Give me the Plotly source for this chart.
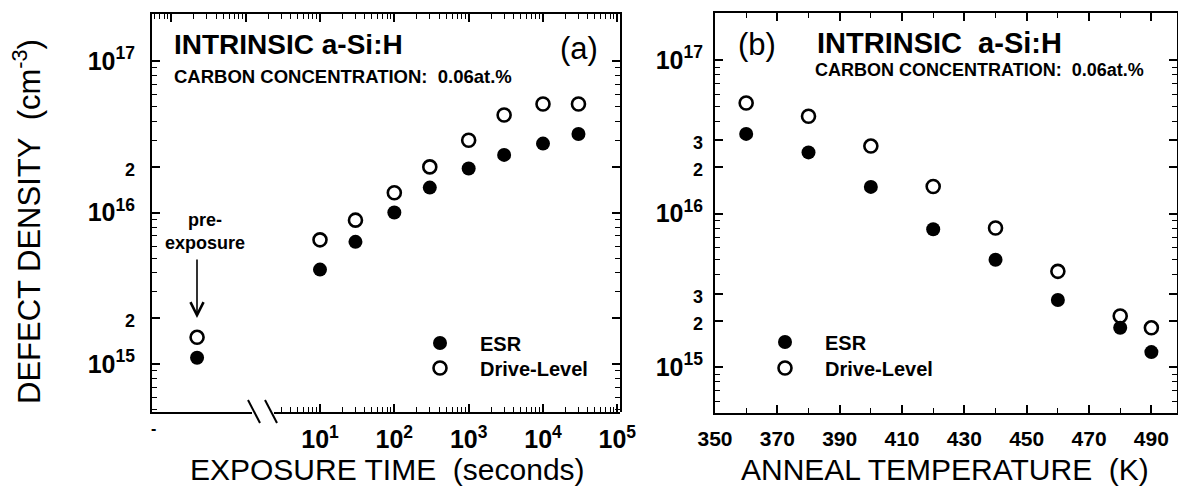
import math
import plotly.graph_objects as go

W, H = 1178, 488
FONT = "Liberation Sans"

# ---- (a) defect density vs light exposure time ----
exposure_time_s = [10, 30, 100, 300, 1000, 3000, 10000, 30000]
esr_exposure = [4.2e15, 6.4e15, 1.0e16, 1.46e16, 1.95e16, 2.4e16, 2.85e16, 3.3e16]
drive_exposure = [6.6e15, 8.9e15, 1.35e16, 2.0e16, 3.0e16, 4.4e16, 5.2e16, 5.2e16]
pre_exposure_x = [0]
pre_esr = [1.1e15]
pre_drive = [1.5e15]

# ---- (b) defect density vs anneal temperature ----
anneal_temp_k = [360, 380, 400, 420, 440, 460, 480, 490]
esr_anneal = [3.3e16, 2.5e16, 1.49e16, 7.9e15, 5.0e15, 2.73e15, 1.8e15, 1.25e15]
drive_anneal = [5.25e16, 4.3e16, 2.75e16, 1.5e16, 8.05e15, 4.2e15, 2.15e15, 1.8e15]

time_tickvals = [10, 100, 1000, 10000, 100000]
time_ticktext = ["10<sup>1</sup>", "10<sup>2</sup>", "10<sup>3</sup>", "10<sup>4</sup>", "10<sup>5</sup>"]
top_tickvals = [0.1, 1, 10, 100, 1000, 10000, 100000]

dens_a_tickvals = [1e15, 2e15, 1e16, 2e16, 1e17]
dens_b_tickvals = [1e15, 2e15, 3e15, 1e16, 2e16, 3e16, 1e17]


def px(x):
    return x / W


def py(y):
    return 1 - y / H


def small(s):
    return '<span style="font-size:18px">%s</span>' % s


def dens_labels(vals):
    out = []
    for v in vals:
        e = int(math.floor(math.log10(v) + 1e-9))
        m = round(v / 10 ** e)
        out.append("10<sup>%d</sup>" % e if m == 1 else small(str(m)))
    return out


def log_minor(lo, hi, mults):
    vals = []
    for e in range(lo, hi + 1):
        for m in mults:
            vals.append(m * 10 ** e)
    return vals


filled = dict(symbol="circle", size=14, color="black", line=dict(width=0))
hollow = dict(symbol="circle-open", size=13, color="black", line=dict(width=2.6, color="black"))

fig = go.Figure()
# pre-exposure points on their own short axis
fig.add_trace(go.Scatter(x=pre_exposure_x, y=pre_esr, mode="markers", marker=filled,
                         xaxis="x", yaxis="y", showlegend=False, hoverinfo="skip"))
fig.add_trace(go.Scatter(x=pre_exposure_x, y=pre_drive, mode="markers", marker=hollow,
                         xaxis="x", yaxis="y", showlegend=False, hoverinfo="skip"))
# invisible carrier so the full-width top time axis is laid out
fig.add_trace(go.Scatter(x=exposure_time_s, y=esr_exposure, mode="markers",
                         marker=dict(opacity=0), xaxis="x3", yaxis="y",
                         showlegend=False, hoverinfo="skip"))
fig.add_trace(go.Scatter(x=exposure_time_s, y=esr_exposure, mode="markers", marker=filled,
                         xaxis="x2", yaxis="y", name="ESR", legend="legend"))
fig.add_trace(go.Scatter(x=exposure_time_s, y=drive_exposure, mode="markers", marker=hollow,
                         xaxis="x2", yaxis="y", name="Drive-Level", legend="legend2"))
fig.add_trace(go.Scatter(x=anneal_temp_k, y=esr_anneal, mode="markers", marker=filled,
                         xaxis="x4", yaxis="y2", name="ESR", legend="legend3"))
fig.add_trace(go.Scatter(x=anneal_temp_k, y=drive_anneal, mode="markers", marker=hollow,
                         xaxis="x4", yaxis="y2", name="Drive-Level", legend="legend4"))

tickfont = dict(family=FONT, size=25, color="black", weight="bold")
common = dict(showgrid=False, zeroline=False, showline=True, linecolor="black", linewidth=2,
              tickcolor="black", tickwidth=1.5, automargin=False)
minor_style = dict(ticks="inside", ticklen=5, tickcolor="black", tickwidth=1.2)

# decade geometry of the exposure-time axis
dec_px = (543 - 320) / 3.0
t_right = 4 + (620 - 543) / dec_px
t_left_bottom = 1 - (320 - 274) / dec_px
t_left_top = 1 - (320 - 152) / dec_px


def legend_at(x_marker, y_marker):
    return dict(x=px(x_marker - 40), y=py(y_marker), xanchor="left", yanchor="middle",
                bgcolor="rgba(0,0,0,0)", borderwidth=0, itemwidth=70,
                font=dict(family=FONT, size=20, color="black", weight="bold"))


fig.update_layout(
    width=W, height=H, margin=dict(l=0, r=0, t=0, b=0, autoexpand=False),
    paper_bgcolor="white", plot_bgcolor="rgba(0,0,0,0)",
    xaxis=dict(domain=[px(152), px(250)], range=[-0.46, 0.54], anchor="y",
               ticks="", showticklabels=False, **common),
    xaxis2=dict(domain=[px(274), px(620)], type="log", range=[t_left_bottom, t_right], anchor="y",
                tickmode="array", tickvals=time_tickvals, ticktext=time_ticktext,
                ticks="inside", ticklen=8, tickfont=tickfont, ticklabelstandoff=4,
                minor=dict(tickmode="array", tickvals=log_minor(0, 4, range(2, 10)), **minor_style),
                **common),
    xaxis3=dict(domain=[px(152), px(620)], type="log", range=[t_left_top, t_right], anchor="y",
                side="top", tickmode="array", tickvals=top_tickvals, showticklabels=False,
                ticks="inside", ticklen=8,
                minor=dict(tickmode="array", tickvals=log_minor(-2, 4, range(2, 10)), **minor_style),
                **common),
    yaxis=dict(domain=[py(412), py(14)], type="log",
               range=[15 - 48 / 151.5, 17 + 47 / 151.5], anchor="x3", mirror="ticks",
               tickmode="array", tickvals=dens_a_tickvals, ticktext=dens_labels(dens_a_tickvals),
               ticks="inside", ticklen=8, tickfont=tickfont, ticklabelstandoff=10,
               minor=dict(tickmode="array", tickvals=log_minor(14, 16, range(3, 10)), **minor_style),
               **common),
    xaxis4=dict(domain=[px(715), px(1177)], range=[350, 350 + (1177 - 715) / 3.117], anchor="y2",
                mirror="ticks", tickmode="linear", tick0=350, dtick=20,
                ticks="inside", ticklen=8,
                tickfont=dict(family=FONT, size=21, color="black", weight="bold"),
                ticklabelstandoff=6,
                minor=dict(tick0=350, dtick=10, **minor_style),
                **common),
    yaxis2=dict(domain=[py(413), py(13)], type="log",
                range=[15 - 46 / 153.5, 17 + 47 / 153.5], anchor="x4", mirror="ticks",
                tickmode="array", tickvals=dens_b_tickvals, ticktext=dens_labels(dens_b_tickvals),
                ticks="inside", ticklen=8, tickfont=tickfont, ticklabelstandoff=5,
                minor=dict(tickmode="array", tickvals=log_minor(14, 16, range(4, 10)), **minor_style),
                **common),
    legend=legend_at(440, 343),
    legend2=legend_at(440, 368),
    legend3=legend_at(785, 342),
    legend4=legend_at(785, 368),
    showlegend=True,
)

NB = "\u00a0"
annots = [
    # panel (a) labels
    dict(x=px(172), y=py(45), text="INTRINSIC a-Si:H", xanchor="left",
         font=dict(size=28, weight="bold")),
    dict(x=px(172), y=py(76), text="CARBON CONCENTRATION:" + NB + NB + "0.06at.%", xanchor="left",
         font=dict(size=18.5, weight="bold")),
    dict(x=px(579), y=py(49), text="(a)", font=dict(size=31)),
    dict(x=px(205), y=py(231), text="pre-<br>exposure", font=dict(size=18, weight="bold")),
    dict(x=px(153), y=py(428), text="-", font=dict(size=16, weight="bold")),
    # panel (b) labels
    dict(x=px(757), y=py(45), text="(b)", font=dict(size=31)),
    dict(x=px(815), y=py(43), text="INTRINSIC" + NB + NB + "a-Si:H", xanchor="left",
         font=dict(size=29, weight="bold")),
    dict(x=px(813), y=py(70), text="CARBON CONCENTRATION:" + NB + NB + "0.06at.%", xanchor="left",
         font=dict(size=18, weight="bold")),
    # axis titles
    dict(x=px(387), y=py(469), text="EXPOSURE TIME" + NB + NB + "(seconds)", font=dict(size=30)),
    dict(x=px(945), y=py(469), text="ANNEAL TEMPERATURE" + NB + NB + "(K)", font=dict(size=30)),
    dict(x=px(27), y=py(222), text="DEFECT DENSITY" + NB + NB + "(cm<sup>-3</sup>)",
         textangle=-90, font=dict(size=31)),
]
for a in annots:
    a.setdefault("xanchor", "center")
    a.update(xref="paper", yref="paper", yanchor="middle", showarrow=False)
    a["font"] = dict(family=FONT, color="black", **a["font"])
    fig.add_annotation(**a)

# arrow pointing at the pre-exposure points
fig.add_annotation(x=px(197), y=py(318), xref="paper", yref="paper", ax=0, ay=-60,
                   axref="pixel", ayref="pixel", showarrow=True, arrowhead=5, arrowsize=1.6,
                   arrowwidth=1.6, arrowcolor="black", text="")

# axis break marks
for x0, x1 in [(248, 260), (265, 277)]:
    fig.add_shape(type="line", xref="paper", yref="paper", x0=px(x0), y0=py(400), x1=px(x1), y1=py(423),
                  line=dict(color="black", width=2))

fig.write_html("out.html")
